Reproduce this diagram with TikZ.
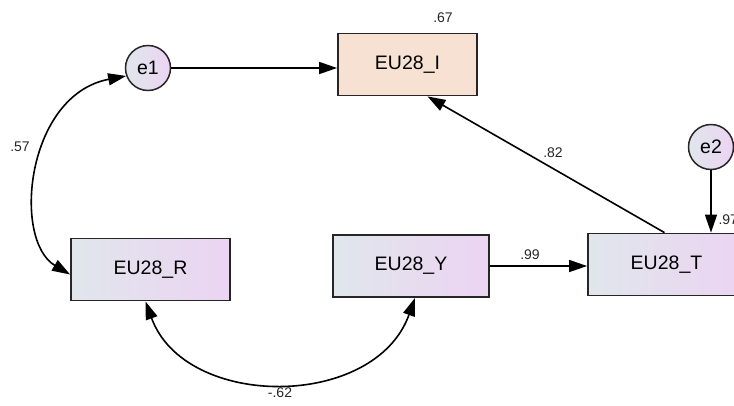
\documentclass[tikz,border=0pt]{standalone}
\usepackage{fontspec}
\setmainfont{Liberation Sans}
\usetikzlibrary{arrows.meta}
\definecolor{gl}{HTML}{E0E6EC}
\definecolor{gr}{HTML}{ECD4F2}
\definecolor{peach}{HTML}{F6E1D3}
\tikzset{
  obs/.style={draw=black!85, line width=1.8pt, minimum height=62pt, inner sep=0pt,
    shading=axis, left color=gl, right color=gr, shading angle=90, font=\fontsize{19.5}{22}\selectfont},
  err/.style={circle, draw=black!85, line width=1.5pt, minimum size=45pt, inner sep=0pt,
    left color=gl, right color=gr, font=\fontsize{19.5}{22}\selectfont},
  conn/.style={line width=1.6pt, -{Triangle[length=18pt,width=12pt]}},
  dconn/.style={line width=1.6pt, {Triangle[length=18pt,width=12pt]}-{Triangle[length=18pt,width=12pt]}},
  lbl/.style={font=\fontsize{14}{16}\selectfont, text=black!85}
}
\begin{document}
\begin{tikzpicture}[x=1pt,y=-1pt]
\useasboundingbox (0,0) rectangle (734,405);
\node[err] (e1) at (148,68) {e1};
\node[err] (e2) at (711,147) {e2};
\node[obs, minimum width=139pt, shading=axis, left color=peach, right color=peach] (I) at (407.5,64.5) {EU28\_I};
\node[obs, minimum width=159pt] (R) at (150.5,269.5) {EU28\_R};
\node[obs, minimum width=156pt] (Y) at (411,266) {EU28\_Y};
\node[obs, minimum width=157pt] (T) at (666.5,264.5) {EU28\_T};
\draw[conn] (e1.east) -- (e1.east -| I.west);
\draw[conn] ([xshift=-2pt]T.north) -- ([xshift=20pt]I.south);
\draw[conn] (e2.south) -- (e2.south |- T.north);
\draw[conn] (Y.east) -- (Y.east -| T.west);
\draw[dconn] (e1.200) .. controls (26,95) and (12,240) .. ([yshift=-5pt]R.west);
\draw[dconn] ([xshift=-5pt]R.south) .. controls (185,410) and (375,410) .. ([xshift=4pt]Y.south);
\node[lbl] (l67) at (443,18) {.67};
\node[lbl] (l82) at (553,153) {.82};
\node[lbl] (l99) at (530,255) {.99};
\node[lbl] (l57) at (20,147) {.57};
\node[lbl] (l62) at (280,393) {-.62};
\node[lbl, anchor=west] (l97) at (715,220) {.97};
\end{tikzpicture}
\end{document}
